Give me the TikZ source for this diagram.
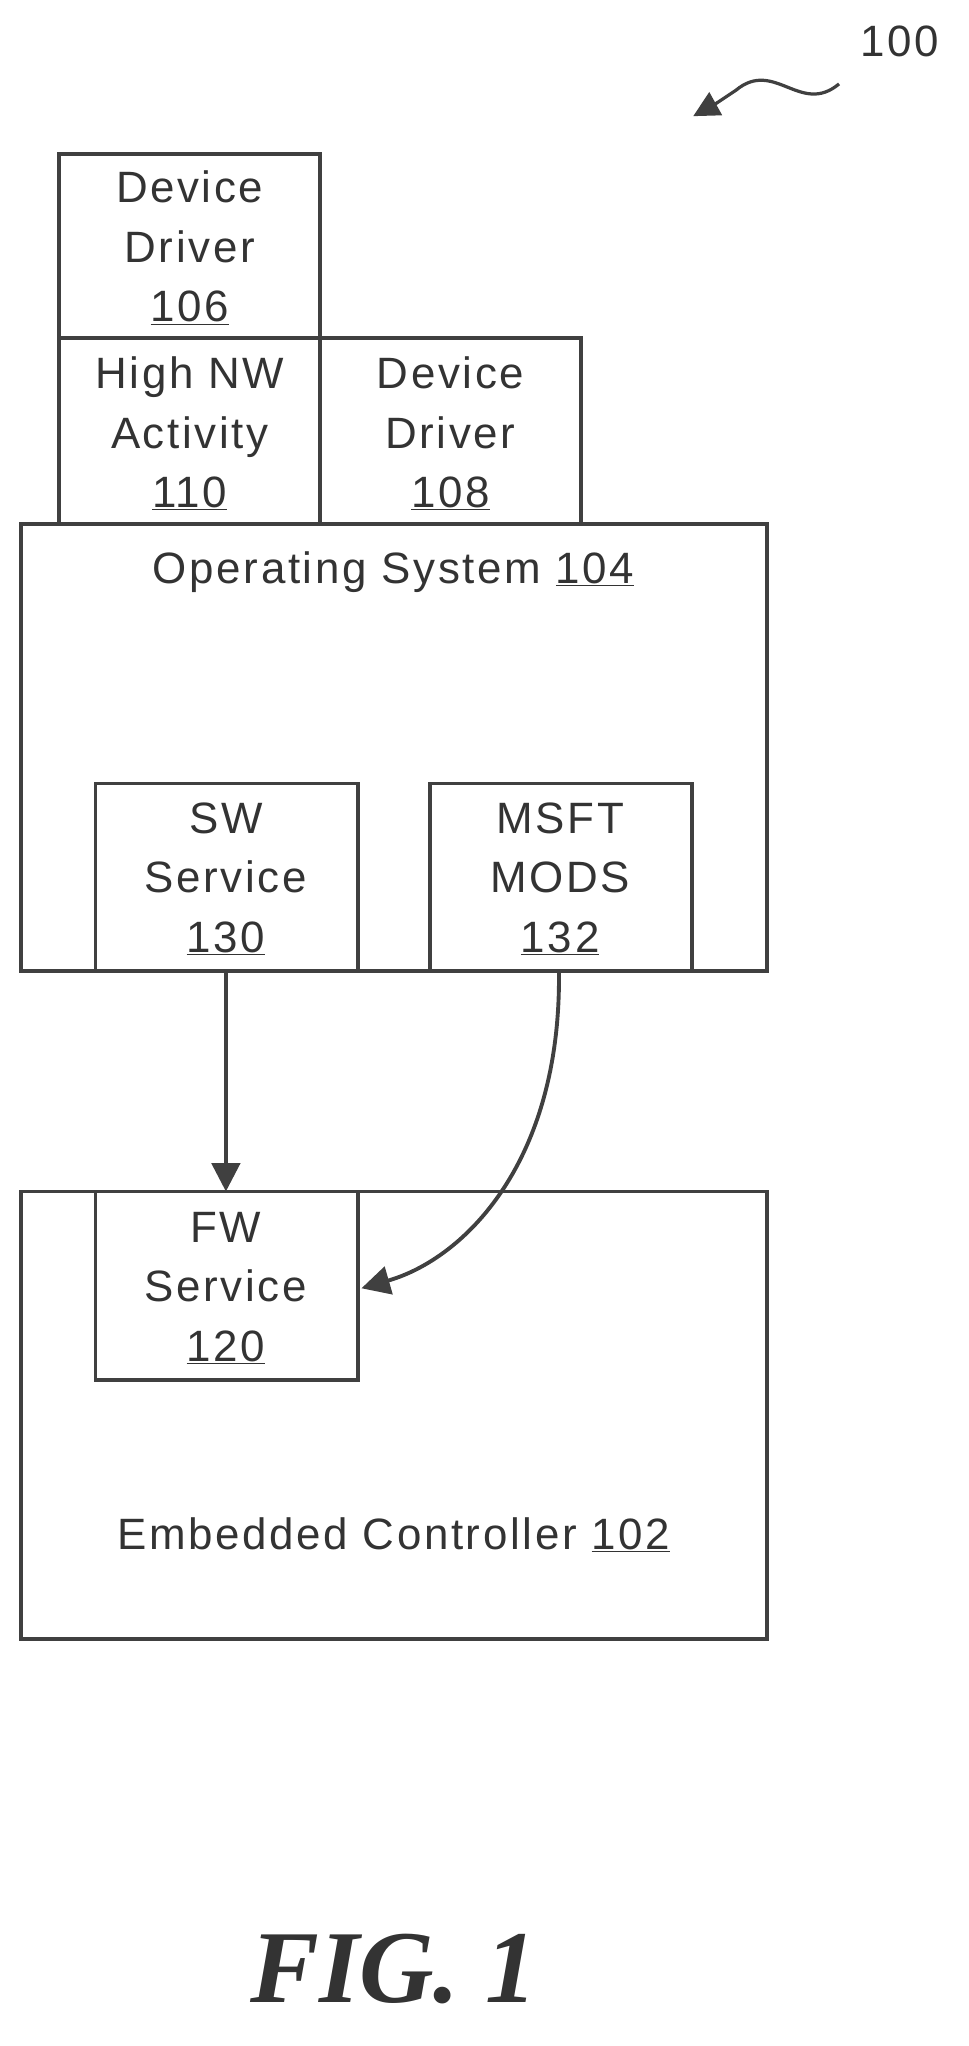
\documentclass[tikz,border=0pt]{standalone}
\usepackage{fontspec}
\setmainfont{Liberation Sans}[LetterSpace=6]
\newfontfamily\figfont{Liberation Serif}
\usetikzlibrary{arrows.meta}
\begin{document}
\begin{tikzpicture}[x=1pt,y=-1pt,
  bx/.style={draw=black!75,line width=3pt},
  lbl/.style={font=\fontsize{34}{46}\selectfont,text=black!80,align=center},
  arr/.style={draw=black!75,line width=3pt,-{Triangle[length=22pt,width=22pt]}}]
\useasboundingbox (0,0) rectangle (750,1585);
\draw[bx] (16,406) rectangle (594,752);
\draw[bx] (46,119) rectangle (248,262);
\draw[bx] (46,262) rectangle (248,406);
\draw[bx] (248,262) rectangle (450,406);
\draw[bx,fill=white] (74,607) rectangle (277,752);
\draw[bx,fill=white] (333,607) rectangle (536,752);
\draw[bx] (16,923) rectangle (594,1270);
\draw[bx,fill=white] (74,923) rectangle (277,1069);
\node[lbl] (n106) at (147,192) {Device\\Driver\\\underline{106}};
\node[lbl] (n110) at (147,336) {High NW\\Activity\\\underline{110}};
\node[lbl] (n108) at (349,336) {Device\\Driver\\\underline{108}};
\node[lbl] (n104) at (305,443) {Operating System \underline{104}};
\node[lbl] (n130) at (175,681) {SW\\Service\\\underline{130}};
\node[lbl] (n132) at (434,681) {MSFT\\MODS\\\underline{132}};
\node[lbl] (n120) at (175,998) {FW\\Service\\\underline{120}};
\node[lbl] (n102) at (305,1189) {Embedded Controller \underline{102}};
\coordinate (a1) at (175,752); \coordinate (a2) at (175,923);
\draw[arr] (a1) -- (a2);
\coordinate (b1) at (433,752); \coordinate (b2) at (280,998);
\draw[arr] (b1) .. controls (435,900) and (360,975) .. (b2);
\node[lbl,anchor=center] (n100) at (697,32) {100};
\coordinate (s1) at (650,65); \coordinate (s2) at (537,90);
\draw[arr,line width=2.5pt,-{Triangle[length=20pt,width=20pt]}] (s1) .. controls (620,90) and (600,45) .. (570,70) .. controls (555,80) .. (s2);
\node[font=\figfont\bfseries\itshape\fontsize{80}{90}\selectfont,text=black!80] (fig) at (305,1525) {FIG. 1};
\end{tikzpicture}
\end{document}
